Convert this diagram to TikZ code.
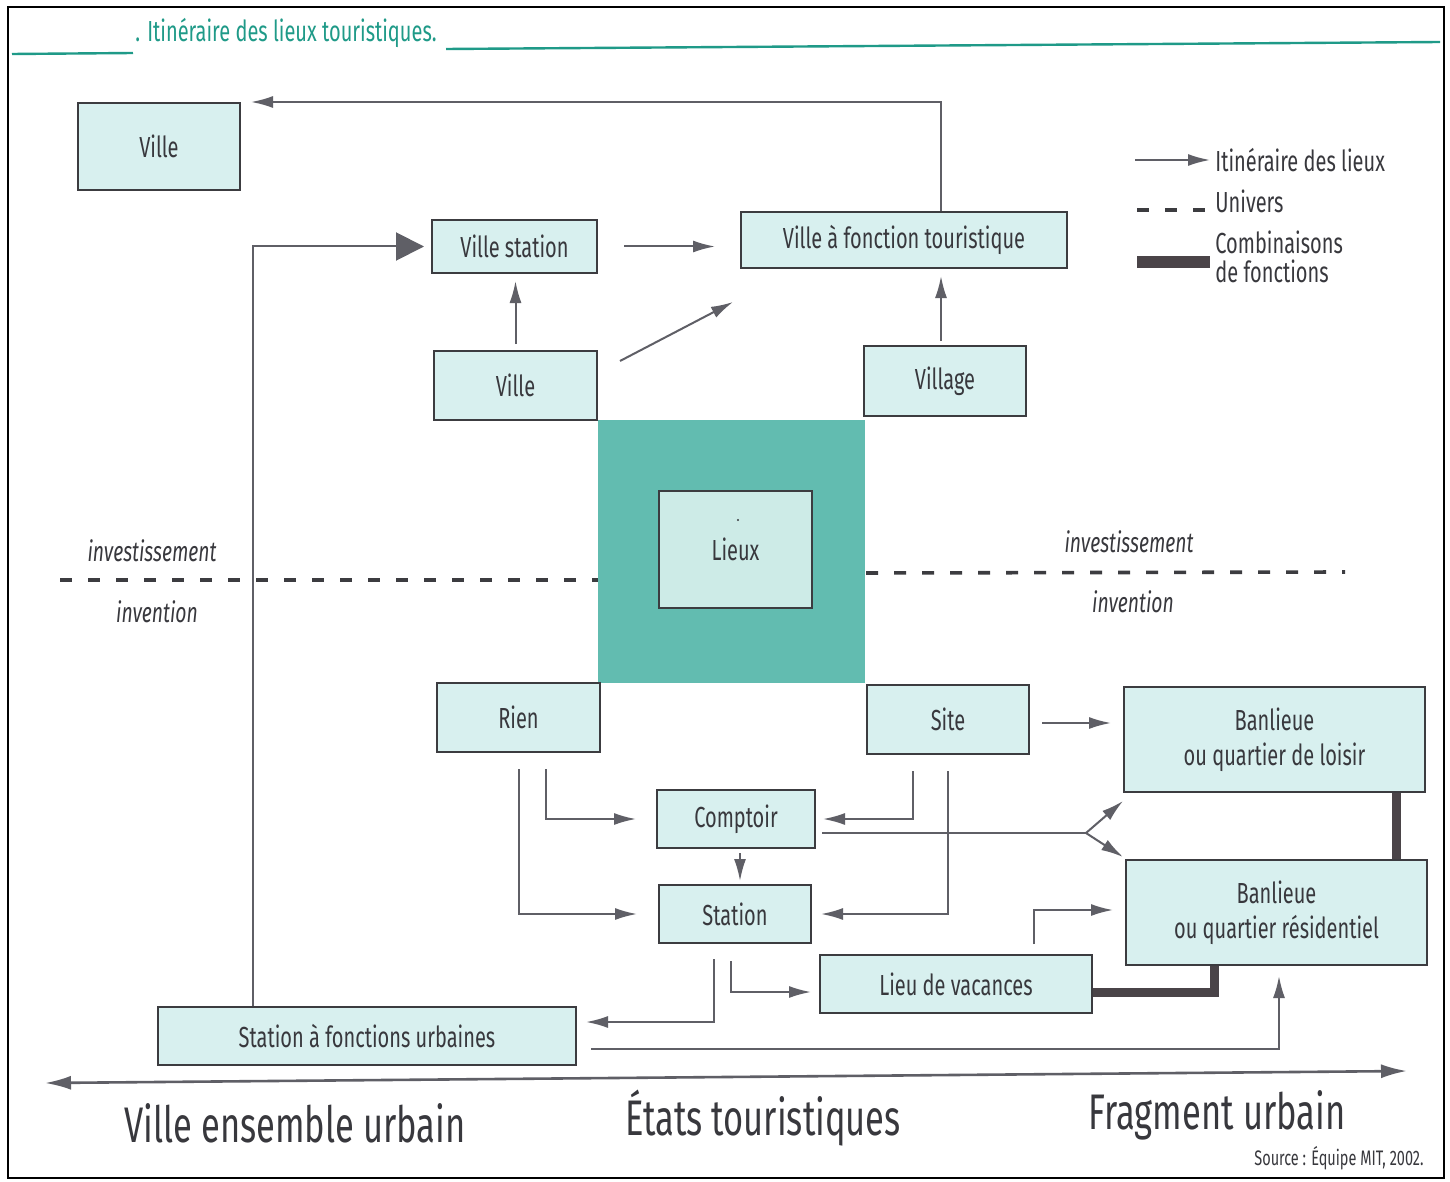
\documentclass[tikz,border=0pt]{standalone}
\usepackage{fontspec}
\setmainfont{Fira Sans}[FakeStretch=0.69]
\usetikzlibrary{arrows.meta}
\definecolor{boxfill}{HTML}{D8F0EF}
\definecolor{lieuxfill}{HTML}{62BCB0}
\definecolor{innerfill}{HTML}{CDEBE7}
\definecolor{linegray}{HTML}{5F5F66}
\definecolor{bordergray}{HTML}{3C3C40}
\definecolor{txtgray}{HTML}{38383D}
\definecolor{combogray}{HTML}{4A4448}
\definecolor{titleteal}{HTML}{1F9A88}
\newcommand\bxfont{\fontsize{14.5}{17.5}\selectfont}
\newcommand\ttlfont{\fontsize{14.5}{16}\selectfont}
\newcommand\bigfont{\fontsize{25}{29}\selectfont}
\newcommand\srcfont{\fontsize{10.5}{12}\selectfont}
\newcommand\itlfont{\fontsize{14}{16}\selectfont\itshape}
\begin{document}
\begin{tikzpicture}[x=0.5pt,y=-0.5pt,
  box/.style={draw=bordergray, line width=1pt, fill=boxfill, inner sep=0pt, text=txtgray, font=\bxfont, align=center},
  lbl/.style={inner sep=0pt, text=txtgray},
  ln/.style={draw=linegray, line width=1pt},
  arr/.style={draw=linegray, line width=1pt, -{Latex[length=11pt,width=6pt]}},
  bigarr/.style={draw=linegray, line width=1pt, -{Triangle[length=14pt,width=14pt]}},
  univ/.style={draw=bordergray, line width=1.8pt, dash pattern=on 6pt off 8pt},
  comboline/.style={draw=combogray, line width=4.5pt}]
\useasboundingbox (0,0) rectangle (1450,1182);
\fill[white] (0,0) rectangle (1450,1182);
\draw[black, line width=1pt] (8,7) rectangle (1444,1178);

% title
\draw[titleteal, line width=1.2pt] (12,54) -- (133,53);
\draw[titleteal, line width=1.2pt] (446,49) -- (1440,42);
\node[anchor=west, inner sep=0pt, text=titleteal, font=\ttlfont] (title) at (135,33) {. Itinéraire des lieux touristiques.};

% Lieux
\node[fill=lieuxfill, minimum width=133.5pt, minimum height=131.5pt, inner sep=0pt] (lieuxsq) at (731.5,551.5) {};
\node[box, fill=innerfill, minimum width=76.5pt, minimum height=58.5pt] (lieux) at (735.5,549.5) {Lieux};
\fill[txtgray] (738,520) circle (1.2);

% boxes
\node[box, minimum width=81pt, minimum height=43.5pt] (villeA) at (159,146.5) {Ville};
\node[box, minimum width=82.5pt, minimum height=26.5pt] (vstation) at (514.5,246.5) {Ville station};
\node[box, minimum width=163pt, minimum height=28pt] (vft) at (904,240) {Ville à fonction touristique};
\node[box, minimum width=81.5pt, minimum height=34.5pt] (villeB) at (515.5,385.5) {Ville};
\node[box, minimum width=81pt, minimum height=35pt] (village) at (945,381) {Village};
\node[box, minimum width=81.5pt, minimum height=34.5pt] (rien) at (518.5,717.5) {Rien};
\node[box, minimum width=81pt, minimum height=34.5pt] (site) at (948,719.5) {Site};
\node[box, minimum width=150.5pt, minimum height=52.5pt] (bl) at (1274.5,739.5) {Banlieue\\ou quartier de loisir};
\node[box, minimum width=79pt, minimum height=29pt] (comptoir) at (736,819) {Comptoir};
\node[box, minimum width=76pt, minimum height=29pt] (station) at (735,914) {Station};
\node[box, minimum width=150.5pt, minimum height=52.5pt] (br) at (1276.5,912.5) {Banlieue\\ou quartier résidentiel};
\node[box, minimum width=136pt, minimum height=29pt] (vacances) at (956,984) {Lieu de vacances};
\node[box, minimum width=209pt, minimum height=29pt] (sfu) at (367,1036) {Station à fonctions urbaines};

% connectors
\draw[arr] ([xshift=18.5pt]vft.north) |- ([xshift=5pt]villeA.north east);
\draw[bigarr] ([xshift=-57pt]sfu.north) |- ([xshift=-3.5pt]vstation.west);
\draw[arr] ([xshift=13pt]vstation.east) -- ([xshift=-12.5pt,yshift=-3.25pt]vft.west);
\draw[arr] ([yshift=3pt]villeB.north) -- ([xshift=0.5pt,yshift=-3.5pt]vstation.south);
\draw[arr] ([xshift=11pt,yshift=-5.5pt]villeB.north east) -- ([xshift=-3.5pt,yshift=-16.5pt]vft.south west);
\draw[arr] ([xshift=-2pt,yshift=2pt]village.north) -- ([xshift=18.5pt,yshift=-3.5pt]vft.south);

\draw[arr] ([xshift=13.75pt,yshift=-8pt]rien.south) |- ([xshift=-10pt]comptoir.west);
\draw[arr] ([xshift=0.25pt,yshift=-8pt]rien.south) |- ([xshift=-10.5pt]station.west);
\draw[arr] ([xshift=-17.5pt,yshift=-8pt]site.south) |- ([xshift=3.5pt]comptoir.east);
\draw[arr] ([yshift=-8pt]site.south) |- ([xshift=4.5pt]station.east);
\draw[arr] ([xshift=6pt,yshift=-1.75pt]site.east) -- ([xshift=-6pt,yshift=8.25pt]bl.west);

\coordinate (fork) at (1086,833);
\draw[ln] ([xshift=3pt,yshift=-7pt]comptoir.east) -- (fork);
\draw[arr] (fork) -- ([yshift=-4pt]bl.south west);
\draw[arr] (fork) -- ([xshift=-1pt,yshift=1pt]br.north west);
\draw[arr] ([xshift=2pt,yshift=-2pt]comptoir.south) -- ([xshift=2.5pt,yshift=1.5pt]station.north);

\draw[comboline] ([xshift=60.75pt]bl.south) -- ([xshift=59.75pt]br.north);
\draw[comboline] ([yshift=-4pt]vacances.east) -| ([xshift=-31.25pt]br.south);
\draw[arr] ([xshift=-29.5pt,yshift=5pt]vacances.north east) |- ([xshift=-6pt,yshift=1.25pt]br.west);
\draw[arr] ([xshift=-2pt,yshift=-8.5pt]station.south) |- ([xshift=-4pt,yshift=-4pt]vacances.west);
\draw[arr] ([xshift=-10.5pt,yshift=-7.5pt]station.south) |- ([xshift=4.5pt,yshift=7pt]sfu.east);
\draw[arr] ([xshift=7pt,yshift=-6.5pt]sfu.east) -| ([xshift=1.25pt,yshift=-5pt]br.south);

% univers lines
\draw[univ] (60,580) -- (598,580);
\draw[univ] (866,573) -- (1345,572);
\node[lbl, font=\itlfont] (invL) at (152,551) {investissement};
\node[lbl, font=\itlfont] (inL) at (157,612) {invention};
\node[lbl, font=\itlfont] (invR) at (1129,542) {investissement};
\node[lbl, font=\itlfont] (inR) at (1133,602) {invention};

% legend
\coordinate (lgA1) at (1135,160);
\coordinate (lgA2) at (1210,160);
\draw[arr] (lgA1) -- (lgA2);
\draw[univ] (1137,210) -- (1207,210);
\draw[draw=combogray, line width=6pt] (1137,262) -- (1210,262);
\node[lbl, anchor=west, font=\bxfont] (lg1) at (1215,160) {Itinéraire des lieux};
\node[lbl, anchor=west, font=\bxfont] (lg2) at (1215,201) {Univers};
\node[lbl, anchor=west, font=\bxfont] (lg3) at (1215,242) {Combinaisons};
\node[lbl, anchor=west, font=\bxfont] (lg4) at (1215,271) {de fonctions};

% axis
\coordinate (axL) at (45,1083);
\coordinate (axR) at (1407,1071);
\draw[draw=linegray, line width=1.3pt, {Latex[length=13pt,width=7pt]}-{Latex[length=13pt,width=7pt]}] (axL) -- (axR);
\node[lbl, font=\bigfont] (t1) at (295,1123) {Ville ensemble urbain};
\node[lbl, font=\bigfont] (t2) at (763,1118) {États touristiques};
\node[lbl, font=\bigfont] (t3) at (1217,1115) {Fragment urbain};
\node[lbl, anchor=east, font=\srcfont] (src) at (1424,1158) {Source : Équipe MIT, 2002.};
\end{tikzpicture}
\end{document}
